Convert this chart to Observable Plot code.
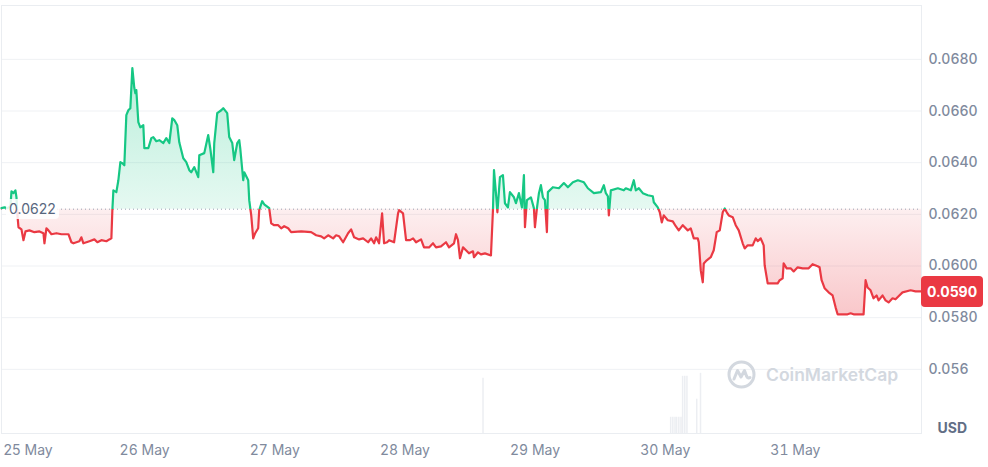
<!DOCTYPE html>
<html><head><meta charset="utf-8">
<script src="https://cdn.jsdelivr.net/npm/d3@7"></script>
<script src="https://cdn.jsdelivr.net/npm/@observablehq/plot@0.6"></script>
<style>
body{margin:0;background:#fff;font-family:Inter, sans-serif;}
#wrap{position:relative;width:988px;height:467px;overflow:hidden;}
.ov{position:absolute;font-family:Inter, sans-serif;white-space:nowrap;}
</style></head><body><div id="wrap"></div>
<script>
// hours since 25 May 00:00 (UTC)
const hours = [
-2.39,-1.84,-1.29,-0.74,-0.55,-0.18,0.18,0.37,0.55,0.74,
1.29,1.66,2.03,2.76,3.68,4.61,5.34,5.53,5.89,6.26,
6.82,7.74,8.66,9.95,10.50,10.87,11.97,12.34,12.71,13.82,
14.74,15.29,16.03,16.95,17.50,17.87,18.05,18.24,
18.79,19.16,19.53,19.89,20.26,20.63,21.00,21.37,21.74,22.10,
22.29,22.47,22.84,23.21,23.76,23.95,24.68,25.24,25.60,26.16,
26.71,27.45,28.00,28.55,29.10,29.47,30.02,30.39,31.13,31.68,
32.24,32.60,33.16,33.89,34.08,35.00,35.73,36.10,36.66,36.84,
37.39,38.13,38.50,39.23,39.60,40.16,40.52,41.08,41.45,41.63,
42.18,42.37,43.10,43.29,43.66,44.02,44.39,44.94,45.13,45.68,
46.05,46.79,46.97,47.34,47.89,48.63,49.18,49.73,50.47,51.02,
52.87,
54.71,55.63,56.55,57.10,57.84,58.76,59.31,59.87,60.60,61.52,
62.08,62.63,63.55,64.29,65.21,65.76,66.31,66.68,67.23,67.79,
68.15,68.71,69.08,70.00,70.73,70.92,71.65,72.21,72.94,73.50,
74.05,74.97,75.52,76.44,77.18,77.73,78.65,79.57,80.13,81.05,
81.42,81.78,82.15,82.71,83.26,83.81,84.55,84.73,85.47,86.02,
86.76,87.86,88.23,88.42,88.78,89.05,89.52,90.07,90.44,90.99,
91.36,92.10,92.47,93.02,93.57,93.94,94.13,94.49,95.23,95.78,
95.97,96.34,96.71,97.07,97.44,97.81,98.18,98.36,99.28,100.39,
101.31,102.05,102.97,103.89,105.00,105.73,106.84,108.13,108.68,109.05,
109.42,109.60,109.97,111.26,112.36,
112.73,113.65,114.20,114.57,115.13,115.86,116.78,117.70,117.89,118.62,
118.99,119.36,119.73,120.47,121.39,121.94,122.49,123.23,124.15,124.70,
125.26,125.99,126.18,126.55,126.92,127.10,127.65,128.39,128.94,129.49,
130.05,130.60,130.97,131.34,131.71,132.44,132.99,133.55,134.28,134.65,
135.20,136.12,136.68,137.05,137.60,138.15,138.33,138.89,140.73,141.10,
141.65,141.83,142.39,143.12,143.68,144.41,145.33,146.44,147.17,148.10,
148.46,148.83,149.38,150.12,150.86,151.41,151.78,153.62,154.18,154.73,
156.57,156.94,157.31,157.86,158.41,158.97,159.33,160.07,160.62,161.18,
161.91,162.46,163.02,163.75,165.23,166.15,167.25
];
const prices = [
.06224,.06227,.06224,.06231,.06289,.06282,.06293,.06266,.06196,.06150,
.06142,.06100,.06134,.06138,.06131,.06134,.06127,.06088,.06146,.06138,
.06123,.06127,.06123,.06123,.06092,.06088,.06096,.06111,.06088,.06096,
.06103,.06092,.06100,.06096,.06103,.06107,.06216,.06293,
.06286,.06332,.06402,.06398,.06390,.06584,.06603,.06611,.06766,.06689,
.06669,.06681,.06557,.06537,.06545,.06456,.06456,.06495,.06499,.06483,
.06487,.06476,.06495,.06476,.06572,.06565,.06545,.06479,.06417,.06402,
.06371,.06363,.06383,.06344,.06429,.06437,.06507,.06456,.06363,.06476,
.06592,.06603,.06611,.06592,.06499,.06476,.06410,.06476,.06487,.06456,
.06332,.06363,.06332,.06255,.06196,.06107,.06127,.06146,.06216,.06251,
.06239,.06227,.06224,.06165,.06158,.06158,.06146,.06154,.06146,.06131,
.06134,
.06131,.06119,.06115,.06107,.06119,.06107,.06119,.06115,.06092,.06127,
.06142,.06111,.06103,.06107,.06092,.06107,.06088,.06111,.06088,.06204,
.06088,.06092,.06100,.06092,.06204,.06216,.06204,.06100,.06100,.06107,
.06092,.06103,.06072,.06072,.06088,.06072,.06076,.06092,.06072,.06088,
.06123,.06100,.06030,.06072,.06061,.06049,.06057,.06034,.06053,.06045,
.06049,.06041,.06216,.06371,.06282,.06208,.06344,.06352,.06243,.06227,
.06286,.06266,.06243,.06282,.06227,.06352,.06150,.06255,.06266,.06224,
.06150,.06224,.06282,.06313,.06266,.06255,.06131,.06286,.06305,.06301,
.06321,.06305,.06324,.06332,.06324,.06301,.06282,.06286,.06313,.06282,
.06270,.06196,.06293,.06301,.06293,
.06301,.06293,.06332,.06293,.06301,.06282,.06274,.06270,.06247,.06227,
.06208,.06169,.06196,.06177,.06173,.06154,.06138,.06158,.06138,.06146,
.06107,.06107,.06092,.05983,.05937,.06010,.06022,.06034,.06061,.06131,
.06138,.06208,.06223,.06208,.06196,.06189,.06158,.06138,.06088,.06068,
.06080,.06080,.06107,.06096,.06107,.06080,.06003,.05933,.05933,.05945,
.05952,.06010,.05991,.05991,.05979,.05995,.05991,.05991,.06007,.05999,
.05995,.05945,.05914,.05898,.05886,.05840,.05813,.05813,.05817,.05813,
.05813,.05945,.05917,.05906,.05875,.05886,.05867,.05886,.05867,.05859,
.05875,.05871,.05883,.05898,.05906,.05902,.05902
];
const baseline = 0.0622;
const baselineLabel = "0.0622";
const lastPrice = 0.0590;
const lastPriceLabel = "0.0590";
const yTicks = [0.056, 0.058, 0.060, 0.062, 0.064, 0.066, 0.068];
const yTickLabels = ["0.056", "0.0580", "0.0600", "0.0620", "0.0640", "0.0660", "0.0680"];
const yDomain = [0.053516, 0.070085];
const dayTicks = ["2024-05-26", "2024-05-27", "2024-05-28", "2024-05-29", "2024-05-30", "2024-05-31"];
const dayLabels = ["26 May", "27 May", "28 May", "29 May", "30 May", "31 May"];
const firstDayLabel = "25 May";
const hourDomain = [-2.39, 167.25];
const volHours = [86.4, 121.0, 121.4, 121.8, 122.1, 122.5, 122.9, 123.2, 123.6, 124.0, 125.8, 126.5];
const volumes  = [0.92, 0.27, 0.27, 0.27, 0.27, 0.27, 0.27, 0.95, 0.95, 0.95, 0.57, 1.0];
const volSpan = 0.00233;
const unitLabel = "USD";

const BASE = Date.UTC(2024, 4, 25);
const toDate = h => new Date(BASE + h * 3600000);
const data = hours.map((h, i) => ({t: toDate(h), v: prices[i]}));
const volData = volHours.map((h, i) => ({t: toDate(h), vol: volumes[i]}));
const dayDates = dayTicks.map(s => new Date(s + "T00:00:00Z"));

const plot = Plot.plot({
  width: 988, height: 467,
  marginLeft: 1, marginRight: 67, marginTop: 5, marginBottom: 34,
  x: {type: "utc", domain: hourDomain.map(toDate), label: null},
  y: {domain: yDomain, label: null},
  style: {fontFamily: "Inter, sans-serif", background: "#fff", overflow: "visible"},
  marks: [
    Plot.ruleY(yTicks, {stroke: "#eff1f4", strokeWidth: 1}),
    Plot.frame({stroke: "#eaedf1"}),
    Plot.ruleX(volData, {x: "t", y1: () => yDomain[0], y2: d => yDomain[0] + d.vol * volSpan, stroke: "#eceef2", strokeWidth: 1.5}),
    Plot.areaY(data, {x: "t", y1: () => baseline, y2: d => Math.max(d.v, baseline), fill: "url(#gGreen)"}),
    Plot.areaY(data, {x: "t", y1: () => baseline, y2: d => Math.min(d.v, baseline), fill: "url(#gRed)"}),
    Plot.ruleY([baseline], {stroke: "#98a2b3", strokeDasharray: "1,3", strokeWidth: 1}),
    Plot.line(data, {x: "t", y: "v", stroke: "url(#gLine)", strokeWidth: 2.2, strokeLinejoin: "round"}),
    Plot.axisY(yTicks, {anchor: "right", label: null, tickSize: 0, tickPadding: 7, fontSize: 14, fontWeight: 500, fill: "#808a9d",
      tickFormat: d => yTickLabels[yTicks.indexOf(d)]}),
    Plot.axisX(dayDates, {anchor: "bottom", label: null, tickSize: 0, tickPadding: 12, fontSize: 14, fill: "#808a9d",
      tickFormat: d => dayLabels[dayDates.findIndex(t => +t === +d)]}),
    Plot.text([firstDayLabel], {frameAnchor: "bottom-left", textAnchor: "start", lineAnchor: "top", dx: 2, dy: 12, fontSize: 14, fill: "#808a9d"}),
    Plot.text([unitLabel], {frameAnchor: "bottom-right", textAnchor: "start", lineAnchor: "middle", dx: 16, dy: -5, fontSize: 14, fontWeight: 700, fill: "#616e85"})
  ]
});

const ys = plot.scale("y");
const yb = ys.apply(baseline);
const yl = ys.apply(lastPrice);
const off = (yb / 467).toFixed(4);
const ns = "http://www.w3.org/2000/svg";
const defs = document.createElementNS(ns, "defs");
defs.innerHTML = `
<linearGradient id="gLine" gradientUnits="userSpaceOnUse" x1="0" y1="0" x2="0" y2="467">
  <stop offset="${off}" stop-color="#16c784"/><stop offset="${off}" stop-color="#ea3943"/>
</linearGradient>
<linearGradient id="gGreen" x1="0" y1="0" x2="0" y2="1">
  <stop offset="0" stop-color="#16c784" stop-opacity="0.30"/><stop offset="1" stop-color="#16c784" stop-opacity="0.11"/>
</linearGradient>
<linearGradient id="gRed" x1="0" y1="0" x2="0" y2="1">
  <stop offset="0" stop-color="#ea3943" stop-opacity="0.08"/><stop offset="1" stop-color="#ea3943" stop-opacity="0.28"/>
</linearGradient>`;
plot.insertBefore(defs, plot.firstChild);

const wrap = document.getElementById("wrap");
wrap.appendChild(plot);

const bl = document.createElement("div");
bl.className = "ov";
bl.textContent = baselineLabel;
Object.assign(bl.style, {left: "6px", top: (yb - 10) + "px", height: "20px", lineHeight: "20px", padding: "0 3px",
  background: "rgba(255,255,255,0.85)", borderRadius: "4px", fontSize: "14px", color: "#58667e"});
wrap.appendChild(bl);

const badge = document.createElement("div");
badge.className = "ov";
badge.textContent = lastPriceLabel;
Object.assign(badge.style, {left: "921px", top: (yl - 15.5) + "px", width: "62px", height: "31px", lineHeight: "31px",
  textAlign: "center", background: "#ea3943", borderRadius: "4px", fontSize: "14px", fontWeight: "700", color: "#fff"});
wrap.appendChild(badge);

const wm = document.createElement("div");
wm.className = "ov";
Object.assign(wm.style, {left: "727px", top: "360px", height: "28px", display: "flex", alignItems: "center", gap: "10px",
  color: "#d3d8df", fontSize: "17.5px", fontWeight: "600"});
wm.innerHTML = `<svg width="29" height="29" viewBox="0 0 29 29"><circle cx="14.5" cy="14.5" r="12.5" fill="none" stroke="#d3d8df" stroke-width="3"/>
<path d="M7 19 L10.5 10.5 L14 17 L17.5 10.5 L19.5 16 Q21 19 23 17.5" fill="none" stroke="#d3d8df" stroke-width="3" stroke-linecap="round" stroke-linejoin="round"/></svg><span>CoinMarketCap</span>`;
wrap.appendChild(wm);
</script></body></html>
